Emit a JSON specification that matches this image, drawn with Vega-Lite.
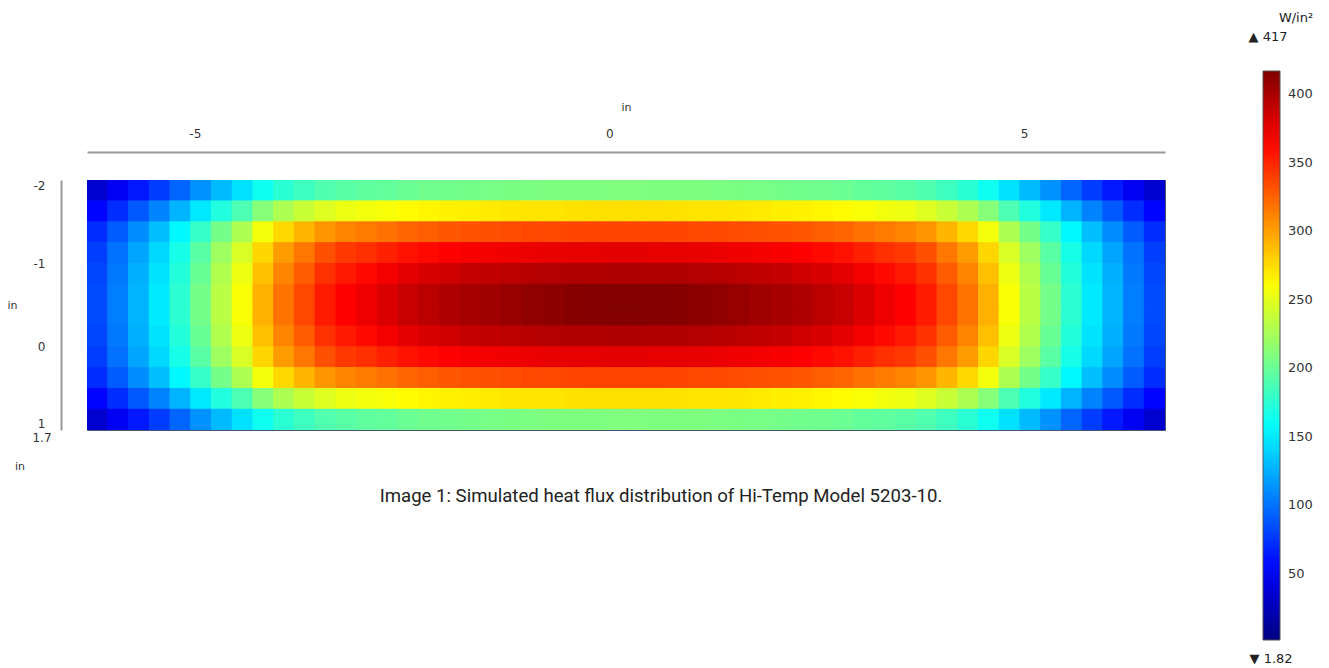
{
"$schema": "https://vega.github.io/schema/vega-lite/v6.json",
"width": 1078, "height": 250,
"autosize": {"type": "none"},
"padding": {"left": 87, "top": 180, "right": 164, "bottom": 238},
"background": "white",
"config": {"view": {"stroke": "#4a5470", "strokeWidth": 1}, "font": "DejaVu Sans", "text": {"font": "DejaVu Sans", "color": "#222"}},
"layer": [
{
"data": {"values": [
{"x":-6.175,"y":-1.875,"v":34},{"x":-5.925,"y":-1.875,"v":49},{"x":-5.675,"y":-1.875,"v":63},{"x":-5.425,"y":-1.875,"v":78},{"x":-5.175,"y":-1.875,"v":95},{"x":-4.925,"y":-1.875,"v":113},{"x":-4.675,"y":-1.875,"v":130},{"x":-4.425,"y":-1.875,"v":145},{"x":-4.175,"y":-1.875,"v":163},{"x":-3.925,"y":-1.875,"v":175},{"x":-3.675,"y":-1.875,"v":183},{"x":-3.425,"y":-1.875,"v":190},{"x":-3.175,"y":-1.875,"v":194},{"x":-2.925,"y":-1.875,"v":196},{"x":-2.675,"y":-1.875,"v":198},{"x":-2.425,"y":-1.875,"v":201},{"x":-2.175,"y":-1.875,"v":203},{"x":-1.925,"y":-1.875,"v":204},{"x":-1.675,"y":-1.875,"v":205},{"x":-1.425,"y":-1.875,"v":206},{"x":-1.175,"y":-1.875,"v":207},{"x":-0.925,"y":-1.875,"v":208},{"x":-0.675,"y":-1.875,"v":209},{"x":-0.425,"y":-1.875,"v":209},{"x":-0.175,"y":-1.875,"v":209},{"x":0.075,"y":-1.875,"v":210},{"x":0.325,"y":-1.875,"v":210},{"x":0.575,"y":-1.875,"v":209},{"x":0.825,"y":-1.875,"v":209},{"x":1.075,"y":-1.875,"v":209},{"x":1.325,"y":-1.875,"v":208},{"x":1.575,"y":-1.875,"v":207},{"x":1.825,"y":-1.875,"v":206},{"x":2.075,"y":-1.875,"v":205},{"x":2.325,"y":-1.875,"v":204},{"x":2.575,"y":-1.875,"v":203},{"x":2.825,"y":-1.875,"v":201},{"x":3.075,"y":-1.875,"v":198},{"x":3.325,"y":-1.875,"v":196},{"x":3.575,"y":-1.875,"v":194},{"x":3.825,"y":-1.875,"v":190},{"x":4.075,"y":-1.875,"v":183},{"x":4.325,"y":-1.875,"v":175},{"x":4.575,"y":-1.875,"v":163},{"x":4.825,"y":-1.875,"v":145},{"x":5.075,"y":-1.875,"v":130},{"x":5.325,"y":-1.875,"v":113},{"x":5.575,"y":-1.875,"v":95},{"x":5.825,"y":-1.875,"v":78},{"x":6.075,"y":-1.875,"v":63},{"x":6.325,"y":-1.875,"v":49},{"x":6.575,"y":-1.875,"v":34},
{"x":-6.175,"y":-1.625,"v":55},{"x":-5.925,"y":-1.625,"v":72},{"x":-5.675,"y":-1.625,"v":90},{"x":-5.425,"y":-1.625,"v":107},{"x":-5.175,"y":-1.625,"v":127},{"x":-4.925,"y":-1.625,"v":149},{"x":-4.675,"y":-1.625,"v":171},{"x":-4.425,"y":-1.625,"v":189},{"x":-4.175,"y":-1.625,"v":212},{"x":-3.925,"y":-1.625,"v":228},{"x":-3.675,"y":-1.625,"v":239},{"x":-3.425,"y":-1.625,"v":248},{"x":-3.175,"y":-1.625,"v":254},{"x":-2.925,"y":-1.625,"v":256},{"x":-2.675,"y":-1.625,"v":259},{"x":-2.425,"y":-1.625,"v":263},{"x":-2.175,"y":-1.625,"v":265},{"x":-1.925,"y":-1.625,"v":267},{"x":-1.675,"y":-1.625,"v":268},{"x":-1.425,"y":-1.625,"v":270},{"x":-1.175,"y":-1.625,"v":271},{"x":-0.925,"y":-1.625,"v":272},{"x":-0.675,"y":-1.625,"v":272},{"x":-0.425,"y":-1.625,"v":273},{"x":-0.175,"y":-1.625,"v":274},{"x":0.075,"y":-1.625,"v":274},{"x":0.325,"y":-1.625,"v":274},{"x":0.575,"y":-1.625,"v":274},{"x":0.825,"y":-1.625,"v":273},{"x":1.075,"y":-1.625,"v":272},{"x":1.325,"y":-1.625,"v":272},{"x":1.575,"y":-1.625,"v":271},{"x":1.825,"y":-1.625,"v":270},{"x":2.075,"y":-1.625,"v":268},{"x":2.325,"y":-1.625,"v":267},{"x":2.575,"y":-1.625,"v":265},{"x":2.825,"y":-1.625,"v":263},{"x":3.075,"y":-1.625,"v":259},{"x":3.325,"y":-1.625,"v":256},{"x":3.575,"y":-1.625,"v":254},{"x":3.825,"y":-1.625,"v":248},{"x":4.075,"y":-1.625,"v":239},{"x":4.325,"y":-1.625,"v":228},{"x":4.575,"y":-1.625,"v":212},{"x":4.825,"y":-1.625,"v":189},{"x":5.075,"y":-1.625,"v":171},{"x":5.325,"y":-1.625,"v":149},{"x":5.575,"y":-1.625,"v":127},{"x":5.825,"y":-1.625,"v":107},{"x":6.075,"y":-1.625,"v":90},{"x":6.325,"y":-1.625,"v":72},{"x":6.575,"y":-1.625,"v":55},
{"x":-6.175,"y":-1.375,"v":72},{"x":-5.925,"y":-1.375,"v":91},{"x":-5.675,"y":-1.375,"v":111},{"x":-5.425,"y":-1.375,"v":131},{"x":-5.175,"y":-1.375,"v":155},{"x":-4.925,"y":-1.375,"v":180},{"x":-4.675,"y":-1.375,"v":205},{"x":-4.425,"y":-1.375,"v":228},{"x":-4.175,"y":-1.375,"v":257},{"x":-3.925,"y":-1.375,"v":277},{"x":-3.675,"y":-1.375,"v":291},{"x":-3.425,"y":-1.375,"v":304},{"x":-3.175,"y":-1.375,"v":311},{"x":-2.925,"y":-1.375,"v":315},{"x":-2.675,"y":-1.375,"v":319},{"x":-2.425,"y":-1.375,"v":324},{"x":-2.175,"y":-1.375,"v":327},{"x":-1.925,"y":-1.375,"v":330},{"x":-1.675,"y":-1.375,"v":332},{"x":-1.425,"y":-1.375,"v":333},{"x":-1.175,"y":-1.375,"v":334},{"x":-0.925,"y":-1.375,"v":336},{"x":-0.675,"y":-1.375,"v":336},{"x":-0.425,"y":-1.375,"v":337},{"x":-0.175,"y":-1.375,"v":338},{"x":0.075,"y":-1.375,"v":338},{"x":0.325,"y":-1.375,"v":338},{"x":0.575,"y":-1.375,"v":338},{"x":0.825,"y":-1.375,"v":337},{"x":1.075,"y":-1.375,"v":336},{"x":1.325,"y":-1.375,"v":336},{"x":1.575,"y":-1.375,"v":334},{"x":1.825,"y":-1.375,"v":333},{"x":2.075,"y":-1.375,"v":332},{"x":2.325,"y":-1.375,"v":330},{"x":2.575,"y":-1.375,"v":327},{"x":2.825,"y":-1.375,"v":324},{"x":3.075,"y":-1.375,"v":319},{"x":3.325,"y":-1.375,"v":315},{"x":3.575,"y":-1.375,"v":311},{"x":3.825,"y":-1.375,"v":304},{"x":4.075,"y":-1.375,"v":291},{"x":4.325,"y":-1.375,"v":277},{"x":4.575,"y":-1.375,"v":257},{"x":4.825,"y":-1.375,"v":228},{"x":5.075,"y":-1.375,"v":205},{"x":5.325,"y":-1.375,"v":180},{"x":5.575,"y":-1.375,"v":155},{"x":5.825,"y":-1.375,"v":131},{"x":6.075,"y":-1.375,"v":111},{"x":6.325,"y":-1.375,"v":91},{"x":6.575,"y":-1.375,"v":72},
{"x":-6.175,"y":-1.125,"v":79},{"x":-5.925,"y":-1.125,"v":100},{"x":-5.675,"y":-1.125,"v":121},{"x":-5.425,"y":-1.125,"v":142},{"x":-5.175,"y":-1.125,"v":167},{"x":-4.925,"y":-1.125,"v":194},{"x":-4.675,"y":-1.125,"v":222},{"x":-4.425,"y":-1.125,"v":246},{"x":-4.175,"y":-1.125,"v":278},{"x":-3.925,"y":-1.125,"v":301},{"x":-3.675,"y":-1.125,"v":317},{"x":-3.425,"y":-1.125,"v":333},{"x":-3.175,"y":-1.125,"v":342},{"x":-2.925,"y":-1.125,"v":346},{"x":-2.675,"y":-1.125,"v":352},{"x":-2.425,"y":-1.125,"v":358},{"x":-2.175,"y":-1.125,"v":362},{"x":-1.925,"y":-1.125,"v":365},{"x":-1.675,"y":-1.125,"v":368},{"x":-1.425,"y":-1.125,"v":370},{"x":-1.175,"y":-1.125,"v":371},{"x":-0.925,"y":-1.125,"v":373},{"x":-0.675,"y":-1.125,"v":374},{"x":-0.425,"y":-1.125,"v":375},{"x":-0.175,"y":-1.125,"v":375},{"x":0.075,"y":-1.125,"v":376},{"x":0.325,"y":-1.125,"v":376},{"x":0.575,"y":-1.125,"v":375},{"x":0.825,"y":-1.125,"v":375},{"x":1.075,"y":-1.125,"v":374},{"x":1.325,"y":-1.125,"v":373},{"x":1.575,"y":-1.125,"v":371},{"x":1.825,"y":-1.125,"v":370},{"x":2.075,"y":-1.125,"v":368},{"x":2.325,"y":-1.125,"v":365},{"x":2.575,"y":-1.125,"v":362},{"x":2.825,"y":-1.125,"v":358},{"x":3.075,"y":-1.125,"v":352},{"x":3.325,"y":-1.125,"v":346},{"x":3.575,"y":-1.125,"v":342},{"x":3.825,"y":-1.125,"v":333},{"x":4.075,"y":-1.125,"v":317},{"x":4.325,"y":-1.125,"v":301},{"x":4.575,"y":-1.125,"v":278},{"x":4.825,"y":-1.125,"v":246},{"x":5.075,"y":-1.125,"v":222},{"x":5.325,"y":-1.125,"v":194},{"x":5.575,"y":-1.125,"v":167},{"x":5.825,"y":-1.125,"v":142},{"x":6.075,"y":-1.125,"v":121},{"x":6.325,"y":-1.125,"v":100},{"x":6.575,"y":-1.125,"v":79},
{"x":-6.175,"y":-0.875,"v":82},{"x":-5.925,"y":-0.875,"v":103},{"x":-5.675,"y":-0.875,"v":125},{"x":-5.425,"y":-0.875,"v":146},{"x":-5.175,"y":-0.875,"v":172},{"x":-4.925,"y":-0.875,"v":200},{"x":-4.675,"y":-0.875,"v":229},{"x":-4.425,"y":-0.875,"v":254},{"x":-4.175,"y":-0.875,"v":287},{"x":-3.925,"y":-0.875,"v":311},{"x":-3.675,"y":-0.875,"v":328},{"x":-3.425,"y":-0.875,"v":345},{"x":-3.175,"y":-0.875,"v":355},{"x":-2.925,"y":-0.875,"v":361},{"x":-2.675,"y":-0.875,"v":369},{"x":-2.425,"y":-0.875,"v":376},{"x":-2.175,"y":-0.875,"v":381},{"x":-1.925,"y":-0.875,"v":385},{"x":-1.675,"y":-0.875,"v":389},{"x":-1.425,"y":-0.875,"v":391},{"x":-1.175,"y":-0.875,"v":393},{"x":-0.925,"y":-0.875,"v":395},{"x":-0.675,"y":-0.875,"v":396},{"x":-0.425,"y":-0.875,"v":397},{"x":-0.175,"y":-0.875,"v":397},{"x":0.075,"y":-0.875,"v":398},{"x":0.325,"y":-0.875,"v":398},{"x":0.575,"y":-0.875,"v":397},{"x":0.825,"y":-0.875,"v":397},{"x":1.075,"y":-0.875,"v":396},{"x":1.325,"y":-0.875,"v":395},{"x":1.575,"y":-0.875,"v":393},{"x":1.825,"y":-0.875,"v":391},{"x":2.075,"y":-0.875,"v":389},{"x":2.325,"y":-0.875,"v":385},{"x":2.575,"y":-0.875,"v":381},{"x":2.825,"y":-0.875,"v":376},{"x":3.075,"y":-0.875,"v":369},{"x":3.325,"y":-0.875,"v":361},{"x":3.575,"y":-0.875,"v":355},{"x":3.825,"y":-0.875,"v":345},{"x":4.075,"y":-0.875,"v":328},{"x":4.325,"y":-0.875,"v":311},{"x":4.575,"y":-0.875,"v":287},{"x":4.825,"y":-0.875,"v":254},{"x":5.075,"y":-0.875,"v":229},{"x":5.325,"y":-0.875,"v":200},{"x":5.575,"y":-0.875,"v":172},{"x":5.825,"y":-0.875,"v":146},{"x":6.075,"y":-0.875,"v":125},{"x":6.325,"y":-0.875,"v":103},{"x":6.575,"y":-0.875,"v":82},
{"x":-6.175,"y":-0.625,"v":84},{"x":-5.925,"y":-0.625,"v":105},{"x":-5.675,"y":-0.625,"v":127},{"x":-5.425,"y":-0.625,"v":149},{"x":-5.175,"y":-0.625,"v":176},{"x":-4.925,"y":-0.625,"v":205},{"x":-4.675,"y":-0.625,"v":233},{"x":-4.425,"y":-0.625,"v":259},{"x":-4.175,"y":-0.625,"v":293},{"x":-3.925,"y":-0.625,"v":318},{"x":-3.675,"y":-0.625,"v":336},{"x":-3.425,"y":-0.625,"v":354},{"x":-3.175,"y":-0.625,"v":365},{"x":-2.925,"y":-0.625,"v":372},{"x":-2.675,"y":-0.625,"v":380},{"x":-2.425,"y":-0.625,"v":388},{"x":-2.175,"y":-0.625,"v":393},{"x":-1.925,"y":-0.625,"v":398},{"x":-1.675,"y":-0.625,"v":401},{"x":-1.425,"y":-0.625,"v":404},{"x":-1.175,"y":-0.625,"v":407},{"x":-0.925,"y":-0.625,"v":410},{"x":-0.675,"y":-0.625,"v":412},{"x":-0.425,"y":-0.625,"v":414},{"x":-0.175,"y":-0.625,"v":415},{"x":0.075,"y":-0.625,"v":416},{"x":0.325,"y":-0.625,"v":416},{"x":0.575,"y":-0.625,"v":415},{"x":0.825,"y":-0.625,"v":414},{"x":1.075,"y":-0.625,"v":412},{"x":1.325,"y":-0.625,"v":410},{"x":1.575,"y":-0.625,"v":407},{"x":1.825,"y":-0.625,"v":404},{"x":2.075,"y":-0.625,"v":401},{"x":2.325,"y":-0.625,"v":398},{"x":2.575,"y":-0.625,"v":393},{"x":2.825,"y":-0.625,"v":388},{"x":3.075,"y":-0.625,"v":380},{"x":3.325,"y":-0.625,"v":372},{"x":3.575,"y":-0.625,"v":365},{"x":3.825,"y":-0.625,"v":354},{"x":4.075,"y":-0.625,"v":336},{"x":4.325,"y":-0.625,"v":318},{"x":4.575,"y":-0.625,"v":293},{"x":4.825,"y":-0.625,"v":259},{"x":5.075,"y":-0.625,"v":233},{"x":5.325,"y":-0.625,"v":205},{"x":5.575,"y":-0.625,"v":176},{"x":5.825,"y":-0.625,"v":149},{"x":6.075,"y":-0.625,"v":127},{"x":6.325,"y":-0.625,"v":105},{"x":6.575,"y":-0.625,"v":84},
{"x":-6.175,"y":-0.375,"v":84},{"x":-5.925,"y":-0.375,"v":105},{"x":-5.675,"y":-0.375,"v":127},{"x":-5.425,"y":-0.375,"v":149},{"x":-5.175,"y":-0.375,"v":176},{"x":-4.925,"y":-0.375,"v":205},{"x":-4.675,"y":-0.375,"v":233},{"x":-4.425,"y":-0.375,"v":259},{"x":-4.175,"y":-0.375,"v":293},{"x":-3.925,"y":-0.375,"v":318},{"x":-3.675,"y":-0.375,"v":336},{"x":-3.425,"y":-0.375,"v":354},{"x":-3.175,"y":-0.375,"v":365},{"x":-2.925,"y":-0.375,"v":372},{"x":-2.675,"y":-0.375,"v":380},{"x":-2.425,"y":-0.375,"v":388},{"x":-2.175,"y":-0.375,"v":393},{"x":-1.925,"y":-0.375,"v":398},{"x":-1.675,"y":-0.375,"v":401},{"x":-1.425,"y":-0.375,"v":404},{"x":-1.175,"y":-0.375,"v":407},{"x":-0.925,"y":-0.375,"v":410},{"x":-0.675,"y":-0.375,"v":412},{"x":-0.425,"y":-0.375,"v":414},{"x":-0.175,"y":-0.375,"v":415},{"x":0.075,"y":-0.375,"v":416},{"x":0.325,"y":-0.375,"v":416},{"x":0.575,"y":-0.375,"v":415},{"x":0.825,"y":-0.375,"v":414},{"x":1.075,"y":-0.375,"v":412},{"x":1.325,"y":-0.375,"v":410},{"x":1.575,"y":-0.375,"v":407},{"x":1.825,"y":-0.375,"v":404},{"x":2.075,"y":-0.375,"v":401},{"x":2.325,"y":-0.375,"v":398},{"x":2.575,"y":-0.375,"v":393},{"x":2.825,"y":-0.375,"v":388},{"x":3.075,"y":-0.375,"v":380},{"x":3.325,"y":-0.375,"v":372},{"x":3.575,"y":-0.375,"v":365},{"x":3.825,"y":-0.375,"v":354},{"x":4.075,"y":-0.375,"v":336},{"x":4.325,"y":-0.375,"v":318},{"x":4.575,"y":-0.375,"v":293},{"x":4.825,"y":-0.375,"v":259},{"x":5.075,"y":-0.375,"v":233},{"x":5.325,"y":-0.375,"v":205},{"x":5.575,"y":-0.375,"v":176},{"x":5.825,"y":-0.375,"v":149},{"x":6.075,"y":-0.375,"v":127},{"x":6.325,"y":-0.375,"v":105},{"x":6.575,"y":-0.375,"v":84},
{"x":-6.175,"y":-0.125,"v":82},{"x":-5.925,"y":-0.125,"v":103},{"x":-5.675,"y":-0.125,"v":125},{"x":-5.425,"y":-0.125,"v":146},{"x":-5.175,"y":-0.125,"v":172},{"x":-4.925,"y":-0.125,"v":200},{"x":-4.675,"y":-0.125,"v":229},{"x":-4.425,"y":-0.125,"v":254},{"x":-4.175,"y":-0.125,"v":287},{"x":-3.925,"y":-0.125,"v":311},{"x":-3.675,"y":-0.125,"v":328},{"x":-3.425,"y":-0.125,"v":345},{"x":-3.175,"y":-0.125,"v":355},{"x":-2.925,"y":-0.125,"v":361},{"x":-2.675,"y":-0.125,"v":369},{"x":-2.425,"y":-0.125,"v":376},{"x":-2.175,"y":-0.125,"v":381},{"x":-1.925,"y":-0.125,"v":385},{"x":-1.675,"y":-0.125,"v":389},{"x":-1.425,"y":-0.125,"v":391},{"x":-1.175,"y":-0.125,"v":393},{"x":-0.925,"y":-0.125,"v":395},{"x":-0.675,"y":-0.125,"v":396},{"x":-0.425,"y":-0.125,"v":397},{"x":-0.175,"y":-0.125,"v":397},{"x":0.075,"y":-0.125,"v":398},{"x":0.325,"y":-0.125,"v":398},{"x":0.575,"y":-0.125,"v":397},{"x":0.825,"y":-0.125,"v":397},{"x":1.075,"y":-0.125,"v":396},{"x":1.325,"y":-0.125,"v":395},{"x":1.575,"y":-0.125,"v":393},{"x":1.825,"y":-0.125,"v":391},{"x":2.075,"y":-0.125,"v":389},{"x":2.325,"y":-0.125,"v":385},{"x":2.575,"y":-0.125,"v":381},{"x":2.825,"y":-0.125,"v":376},{"x":3.075,"y":-0.125,"v":369},{"x":3.325,"y":-0.125,"v":361},{"x":3.575,"y":-0.125,"v":355},{"x":3.825,"y":-0.125,"v":345},{"x":4.075,"y":-0.125,"v":328},{"x":4.325,"y":-0.125,"v":311},{"x":4.575,"y":-0.125,"v":287},{"x":4.825,"y":-0.125,"v":254},{"x":5.075,"y":-0.125,"v":229},{"x":5.325,"y":-0.125,"v":200},{"x":5.575,"y":-0.125,"v":172},{"x":5.825,"y":-0.125,"v":146},{"x":6.075,"y":-0.125,"v":125},{"x":6.325,"y":-0.125,"v":103},{"x":6.575,"y":-0.125,"v":82},
{"x":-6.175,"y":0.125,"v":79},{"x":-5.925,"y":0.125,"v":100},{"x":-5.675,"y":0.125,"v":121},{"x":-5.425,"y":0.125,"v":142},{"x":-5.175,"y":0.125,"v":167},{"x":-4.925,"y":0.125,"v":194},{"x":-4.675,"y":0.125,"v":222},{"x":-4.425,"y":0.125,"v":246},{"x":-4.175,"y":0.125,"v":278},{"x":-3.925,"y":0.125,"v":301},{"x":-3.675,"y":0.125,"v":317},{"x":-3.425,"y":0.125,"v":333},{"x":-3.175,"y":0.125,"v":342},{"x":-2.925,"y":0.125,"v":346},{"x":-2.675,"y":0.125,"v":352},{"x":-2.425,"y":0.125,"v":358},{"x":-2.175,"y":0.125,"v":362},{"x":-1.925,"y":0.125,"v":365},{"x":-1.675,"y":0.125,"v":368},{"x":-1.425,"y":0.125,"v":370},{"x":-1.175,"y":0.125,"v":371},{"x":-0.925,"y":0.125,"v":373},{"x":-0.675,"y":0.125,"v":374},{"x":-0.425,"y":0.125,"v":375},{"x":-0.175,"y":0.125,"v":375},{"x":0.075,"y":0.125,"v":376},{"x":0.325,"y":0.125,"v":376},{"x":0.575,"y":0.125,"v":375},{"x":0.825,"y":0.125,"v":375},{"x":1.075,"y":0.125,"v":374},{"x":1.325,"y":0.125,"v":373},{"x":1.575,"y":0.125,"v":371},{"x":1.825,"y":0.125,"v":370},{"x":2.075,"y":0.125,"v":368},{"x":2.325,"y":0.125,"v":365},{"x":2.575,"y":0.125,"v":362},{"x":2.825,"y":0.125,"v":358},{"x":3.075,"y":0.125,"v":352},{"x":3.325,"y":0.125,"v":346},{"x":3.575,"y":0.125,"v":342},{"x":3.825,"y":0.125,"v":333},{"x":4.075,"y":0.125,"v":317},{"x":4.325,"y":0.125,"v":301},{"x":4.575,"y":0.125,"v":278},{"x":4.825,"y":0.125,"v":246},{"x":5.075,"y":0.125,"v":222},{"x":5.325,"y":0.125,"v":194},{"x":5.575,"y":0.125,"v":167},{"x":5.825,"y":0.125,"v":142},{"x":6.075,"y":0.125,"v":121},{"x":6.325,"y":0.125,"v":100},{"x":6.575,"y":0.125,"v":79},
{"x":-6.175,"y":0.375,"v":72},{"x":-5.925,"y":0.375,"v":91},{"x":-5.675,"y":0.375,"v":111},{"x":-5.425,"y":0.375,"v":131},{"x":-5.175,"y":0.375,"v":155},{"x":-4.925,"y":0.375,"v":180},{"x":-4.675,"y":0.375,"v":205},{"x":-4.425,"y":0.375,"v":228},{"x":-4.175,"y":0.375,"v":257},{"x":-3.925,"y":0.375,"v":277},{"x":-3.675,"y":0.375,"v":291},{"x":-3.425,"y":0.375,"v":304},{"x":-3.175,"y":0.375,"v":311},{"x":-2.925,"y":0.375,"v":315},{"x":-2.675,"y":0.375,"v":319},{"x":-2.425,"y":0.375,"v":324},{"x":-2.175,"y":0.375,"v":327},{"x":-1.925,"y":0.375,"v":330},{"x":-1.675,"y":0.375,"v":332},{"x":-1.425,"y":0.375,"v":333},{"x":-1.175,"y":0.375,"v":334},{"x":-0.925,"y":0.375,"v":336},{"x":-0.675,"y":0.375,"v":336},{"x":-0.425,"y":0.375,"v":337},{"x":-0.175,"y":0.375,"v":338},{"x":0.075,"y":0.375,"v":338},{"x":0.325,"y":0.375,"v":338},{"x":0.575,"y":0.375,"v":338},{"x":0.825,"y":0.375,"v":337},{"x":1.075,"y":0.375,"v":336},{"x":1.325,"y":0.375,"v":336},{"x":1.575,"y":0.375,"v":334},{"x":1.825,"y":0.375,"v":333},{"x":2.075,"y":0.375,"v":332},{"x":2.325,"y":0.375,"v":330},{"x":2.575,"y":0.375,"v":327},{"x":2.825,"y":0.375,"v":324},{"x":3.075,"y":0.375,"v":319},{"x":3.325,"y":0.375,"v":315},{"x":3.575,"y":0.375,"v":311},{"x":3.825,"y":0.375,"v":304},{"x":4.075,"y":0.375,"v":291},{"x":4.325,"y":0.375,"v":277},{"x":4.575,"y":0.375,"v":257},{"x":4.825,"y":0.375,"v":228},{"x":5.075,"y":0.375,"v":205},{"x":5.325,"y":0.375,"v":180},{"x":5.575,"y":0.375,"v":155},{"x":5.825,"y":0.375,"v":131},{"x":6.075,"y":0.375,"v":111},{"x":6.325,"y":0.375,"v":91},{"x":6.575,"y":0.375,"v":72},
{"x":-6.175,"y":0.625,"v":55},{"x":-5.925,"y":0.625,"v":72},{"x":-5.675,"y":0.625,"v":90},{"x":-5.425,"y":0.625,"v":107},{"x":-5.175,"y":0.625,"v":127},{"x":-4.925,"y":0.625,"v":149},{"x":-4.675,"y":0.625,"v":171},{"x":-4.425,"y":0.625,"v":189},{"x":-4.175,"y":0.625,"v":212},{"x":-3.925,"y":0.625,"v":228},{"x":-3.675,"y":0.625,"v":239},{"x":-3.425,"y":0.625,"v":248},{"x":-3.175,"y":0.625,"v":254},{"x":-2.925,"y":0.625,"v":256},{"x":-2.675,"y":0.625,"v":259},{"x":-2.425,"y":0.625,"v":263},{"x":-2.175,"y":0.625,"v":265},{"x":-1.925,"y":0.625,"v":267},{"x":-1.675,"y":0.625,"v":268},{"x":-1.425,"y":0.625,"v":270},{"x":-1.175,"y":0.625,"v":271},{"x":-0.925,"y":0.625,"v":272},{"x":-0.675,"y":0.625,"v":272},{"x":-0.425,"y":0.625,"v":273},{"x":-0.175,"y":0.625,"v":274},{"x":0.075,"y":0.625,"v":274},{"x":0.325,"y":0.625,"v":274},{"x":0.575,"y":0.625,"v":274},{"x":0.825,"y":0.625,"v":273},{"x":1.075,"y":0.625,"v":272},{"x":1.325,"y":0.625,"v":272},{"x":1.575,"y":0.625,"v":271},{"x":1.825,"y":0.625,"v":270},{"x":2.075,"y":0.625,"v":268},{"x":2.325,"y":0.625,"v":267},{"x":2.575,"y":0.625,"v":265},{"x":2.825,"y":0.625,"v":263},{"x":3.075,"y":0.625,"v":259},{"x":3.325,"y":0.625,"v":256},{"x":3.575,"y":0.625,"v":254},{"x":3.825,"y":0.625,"v":248},{"x":4.075,"y":0.625,"v":239},{"x":4.325,"y":0.625,"v":228},{"x":4.575,"y":0.625,"v":212},{"x":4.825,"y":0.625,"v":189},{"x":5.075,"y":0.625,"v":171},{"x":5.325,"y":0.625,"v":149},{"x":5.575,"y":0.625,"v":127},{"x":5.825,"y":0.625,"v":107},{"x":6.075,"y":0.625,"v":90},{"x":6.325,"y":0.625,"v":72},{"x":6.575,"y":0.625,"v":55},
{"x":-6.175,"y":0.875,"v":34},{"x":-5.925,"y":0.875,"v":49},{"x":-5.675,"y":0.875,"v":63},{"x":-5.425,"y":0.875,"v":78},{"x":-5.175,"y":0.875,"v":95},{"x":-4.925,"y":0.875,"v":113},{"x":-4.675,"y":0.875,"v":130},{"x":-4.425,"y":0.875,"v":145},{"x":-4.175,"y":0.875,"v":163},{"x":-3.925,"y":0.875,"v":175},{"x":-3.675,"y":0.875,"v":183},{"x":-3.425,"y":0.875,"v":190},{"x":-3.175,"y":0.875,"v":194},{"x":-2.925,"y":0.875,"v":196},{"x":-2.675,"y":0.875,"v":198},{"x":-2.425,"y":0.875,"v":201},{"x":-2.175,"y":0.875,"v":203},{"x":-1.925,"y":0.875,"v":204},{"x":-1.675,"y":0.875,"v":205},{"x":-1.425,"y":0.875,"v":206},{"x":-1.175,"y":0.875,"v":207},{"x":-0.925,"y":0.875,"v":208},{"x":-0.675,"y":0.875,"v":209},{"x":-0.425,"y":0.875,"v":209},{"x":-0.175,"y":0.875,"v":209},{"x":0.075,"y":0.875,"v":210},{"x":0.325,"y":0.875,"v":210},{"x":0.575,"y":0.875,"v":209},{"x":0.825,"y":0.875,"v":209},{"x":1.075,"y":0.875,"v":209},{"x":1.325,"y":0.875,"v":208},{"x":1.575,"y":0.875,"v":207},{"x":1.825,"y":0.875,"v":206},{"x":2.075,"y":0.875,"v":205},{"x":2.325,"y":0.875,"v":204},{"x":2.575,"y":0.875,"v":203},{"x":2.825,"y":0.875,"v":201},{"x":3.075,"y":0.875,"v":198},{"x":3.325,"y":0.875,"v":196},{"x":3.575,"y":0.875,"v":194},{"x":3.825,"y":0.875,"v":190},{"x":4.075,"y":0.875,"v":183},{"x":4.325,"y":0.875,"v":175},{"x":4.575,"y":0.875,"v":163},{"x":4.825,"y":0.875,"v":145},{"x":5.075,"y":0.875,"v":130},{"x":5.325,"y":0.875,"v":113},{"x":5.575,"y":0.875,"v":95},{"x":5.825,"y":0.875,"v":78},{"x":6.075,"y":0.875,"v":63},{"x":6.325,"y":0.875,"v":49},{"x":6.575,"y":0.875,"v":34}
]},
"mark": {"type": "rect", "width": 21.6, "height": 21.6, "clip": true},
"encoding": {
"x": {"field": "x", "type": "quantitative", "scale": {"domain": [-6.3, 6.7], "nice": false, "zero": false},
"axis": {"orient": "top", "offset": 28, "values": [-5, 0, 5], "labelExpr": "toString(datum.value)", "ticks": false, "grid": false, "labelPadding": 12, "labelFontSize": 12, "labelFont": "DejaVu Sans", "labelColor": "#333", "domainColor": "#999", "domainWidth": 2, "title": "in", "titleFont": "DejaVu Sans", "titleFontSize": 11, "titleFontWeight": "normal", "titleColor": "#333", "titlePadding": 15}},
"y": {"field": "y", "type": "quantitative", "scale": {"domain": [-2, 1], "nice": false, "zero": false, "reverse": true},
"axis": {"orient": "left", "offset": 26, "values": [-2, -1, 0, 1], "labelExpr": "toString(datum.value)", "labelFlush": true, "labelFlushOffset": 0, "ticks": false, "grid": false, "labelPadding": 16, "labelFontSize": 12, "labelFont": "DejaVu Sans", "labelColor": "#333", "domainColor": "#999", "domainWidth": 2, "title": "in", "titleAngle": 0, "titleAlign": "right", "titleBaseline": "middle", "titleFont": "DejaVu Sans", "titleFontSize": 11, "titleFontWeight": "normal", "titleColor": "#333", "titlePadding": 16}},
"color": {"field": "v", "type": "quantitative",
"scale": {"type": "linear", "domain": [1.82, 53.7, 157.5, 261.3, 365.1, 417], "range": ["#000080", "#0000ff", "#00ffff", "#ffff00", "#ff0000", "#800000"], "interpolate": "rgb"},
"legend": {"orient": "none", "legendX": 1176, "legendY": -109, "direction": "vertical", "type": "gradient", "gradientLength": 569, "gradientThickness": 17, "values": [50, 100, 150, 200, 250, 300, 350, 400], "labelFontSize": 13, "labelFont": "DejaVu Sans", "labelColor": "#333", "labelOffset": 8, "title": null, "gradientStrokeColor": "#555", "gradientStrokeWidth": 1, "labelOverlap": false}}
}
},
{"data": {"values": [{}]}, "mark": {"type": "text", "fontSize": 13, "align": "center", "baseline": "middle"}, "encoding": {"x": {"datum": 8.28, "type": "quantitative"}, "y": {"datum": -3.944, "type": "quantitative"}, "text": {"value": "W/in²"}}},
{"data": {"values": [{}]}, "mark": {"type": "text", "fontSize": 13, "align": "center", "baseline": "middle"}, "encoding": {"x": {"datum": 7.943, "type": "quantitative"}, "y": {"datum": -3.716, "type": "quantitative"}, "text": {"value": "▲ 417"}}},
{"data": {"values": [{}]}, "mark": {"type": "text", "fontSize": 13, "align": "center", "baseline": "middle"}, "encoding": {"x": {"datum": 7.979, "type": "quantitative"}, "y": {"datum": 3.748, "type": "quantitative"}, "text": {"value": "▼ 1.82"}}},
{"data": {"values": [{}]}, "mark": {"type": "text", "fontSize": 12, "align": "center", "baseline": "middle", "color": "#333"}, "encoding": {"x": {"datum": -6.843, "type": "quantitative"}, "y": {"datum": 1.1, "type": "quantitative"}, "text": {"value": "1.7"}}},
{"data": {"values": [{}]}, "mark": {"type": "text", "fontSize": 11, "align": "center", "baseline": "middle", "color": "#333"}, "encoding": {"x": {"datum": -7.108, "type": "quantitative"}, "y": {"datum": 1.444, "type": "quantitative"}, "text": {"value": "in"}}},
{"data": {"values": [{}]}, "mark": {"type": "text", "fontSize": 18.6, "align": "center", "baseline": "alphabetic", "font": "Roboto", "color": "#222"}, "encoding": {"x": {"datum": 0.622, "type": "quantitative"}, "y": {"datum": 1.864, "type": "quantitative"}, "text": {"value": "Image 1: Simulated heat flux distribution of Hi-Temp Model 5203-10."}}}
]
}
